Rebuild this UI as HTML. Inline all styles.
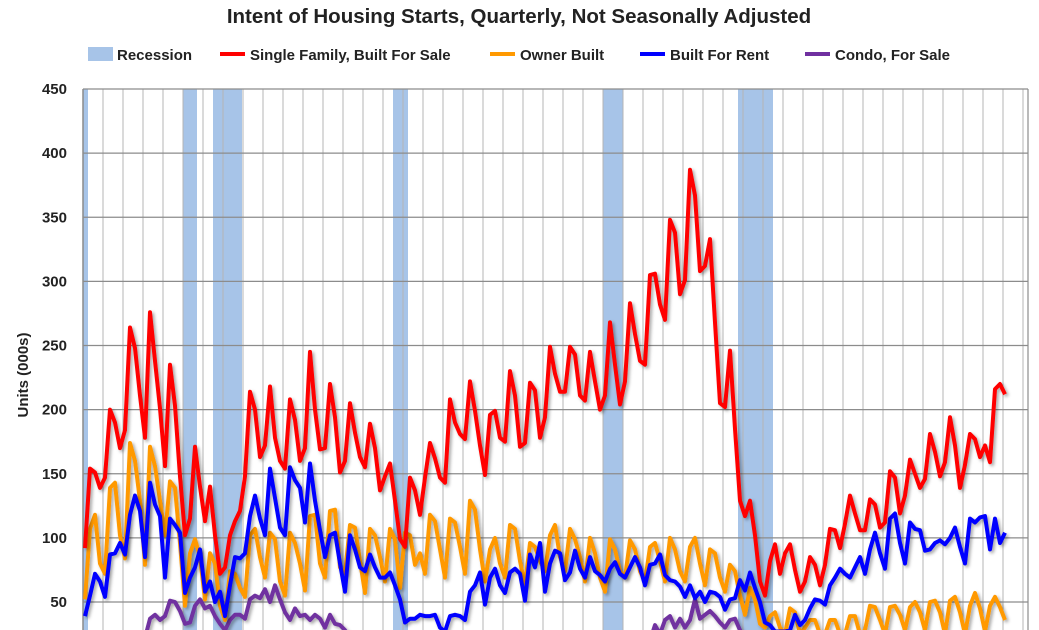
<!DOCTYPE html>
<html><head><meta charset="utf-8"><style>
html,body{margin:0;padding:0;background:#fff;}
svg{display:block;font-family:"Liberation Sans",Arial,sans-serif;}
</style></head><body>
<svg id="chart" width="1039" height="630" viewBox="0 0 1039 630" xmlns="http://www.w3.org/2000/svg">
<defs>
<filter id="sh" x="-5%" y="-5%" width="110%" height="110%"><feDropShadow dx="2" dy="2" stdDeviation="1.5" flood-color="#000" flood-opacity="0.35"/></filter>
<clipPath id="pc"><rect x="83" y="89" width="945" height="541"/></clipPath>
</defs>
<text x="519" y="23" text-anchor="middle" font-size="20.5" font-weight="bold" fill="#222">Intent of Housing Starts, Quarterly, Not Seasonally Adjusted</text>
<g font-size="15" font-weight="bold" fill="#222">
<g><rect x="88" y="47" width="25" height="14" fill="#a7c4e8"/><text x="117" y="60">Recession</text></g>
<g><line x1="220" y1="54" x2="245" y2="54" stroke="#ff0000" stroke-width="4"/><text x="250" y="60">Single Family, Built For Sale</text></g>
<g><line x1="490" y1="54" x2="515" y2="54" stroke="#ff9900" stroke-width="4"/><text x="520" y="60">Owner Built</text></g>
<g><line x1="640" y1="54" x2="665" y2="54" stroke="#0000ff" stroke-width="4"/><text x="670" y="60">Built For Rent</text></g>
<g><line x1="805" y1="54" x2="830" y2="54" stroke="#7030a0" stroke-width="4"/><text x="835" y="60">Condo, For Sale</text></g>
</g>
<text transform="translate(28,375) rotate(-90)" text-anchor="middle" font-size="15" font-weight="bold" fill="#222">Units  (000s)</text>
<g id="rec"></g>
<g id="grid"></g>
<g id="yt" font-size="15" font-weight="bold" fill="#222"></g>
<g id="series" clip-path="url(#pc)"></g>
</svg>
<script>
const yTicks=[50,100,150,200,250,300,350,400,450];
const recessions=[[1975.0,1975.25],[1980.0,1980.7],[1981.5,1982.95],[1990.5,1991.25],[2001.0,2002.0],[2007.75,2009.5]];
const singleFamily=[92,154,151,139,147,200,190,170,184,264,248,211,178,276,238,201,156,235,203,148,102,115,171,140,113,140,102,72,77,102,113,121,148,214,200,
163,172,218,178,160,154,208,192,160,170,245,200,169,170,220,194,151,160,205,182,163,155,189,170,137,148,158,129,99,93,147,137,118,
147,174,162,147,143,208,190,181,177,222,199,172,149,196,199,178,175,230,211,171,174,221,215,178,194,249,228,214,214,249,243,211,207,245,222,
200,211,268,235,204,222,283,259,238,235,305,306,282,270,348,338,290,301,387,367,308,312,333,268,205,202,246,185,129,117,129,102,66,55,82,
95,72,88,95,75,58,66,85,79,63,79,107,106,92,111,133,119,
106,106,130,126,108,112,152,147,119,133,161,150,139,146,181,167,148,159,194,172,139,157,181,177,163,172,159,216,220,212];
const ownerBuilt=[52,107,118,80,72,139,143,102,84,174,160,129,79,171,156,129,102,144,139,96,47,88,99,85,52,88,80,47,36,74,72,61,54,102,
107,85,69,104,99,66,55,104,96,80,59,117,118,80,69,121,122,77,72,110,108,82,57,107,102,85,66,107,99,61,104,102,79,88,
72,118,113,91,69,115,112,93,72,129,122,91,66,91,100,80,69,110,107,82,63,96,93,82,74,102,110,85,74,107,99,85,66,100,88,
69,58,99,91,74,69,98,91,74,66,93,96,82,66,100,91,74,66,93,100,80,63,91,88,69,58,79,74,55,40,61,52,33,30,39,
42,30,25,45,42,25,30,36,36,25,25,36,36,25,25,39,39,
25,28,47,46,36,25,46,47,40,28,46,50,42,28,50,51,42,25,51,54,42,25,47,57,45,27,47,54,46,36];
const builtForRent=[39,55,72,66,54,87,88,96,87,118,133,121,85,143,126,117,69,115,110,104,57,69,77,91,58,66,50,58,39,63,85,84,88,117,133,
115,102,154,131,108,102,155,145,139,112,158,129,106,85,102,104,80,58,102,91,77,74,87,77,69,69,73,63,52,34,37,37,40,
39,39,40,30,27,39,40,39,36,58,63,73,48,69,76,63,57,73,76,72,51,87,77,96,58,80,90,88,67,73,90,76,69,85,74,
71,66,76,81,72,69,77,85,77,63,79,80,87,71,67,66,62,54,63,53,58,50,58,57,54,44,52,53,67,59,73,61,50,34,32,
27,27,27,28,40,32,36,45,52,51,48,63,69,76,72,69,77,
85,72,91,104,88,76,115,119,96,80,112,107,106,90,91,96,98,95,100,108,93,80,115,112,116,117,91,115,96,104];
const condo=[20,20,20,20,20,20,20,20,20,20,20,20,22,37,40,36,39,51,50,43,33,34,47,52,45,47,39,33,28,36,40,40,37,52,55,
53,60,50,63,52,42,36,45,39,40,36,40,37,30,40,33,32,28,22,20,20,20,20,20,20,20,20,20,20,20,20,20,20,
20,20,20,20,20,20,20,20,20,20,20,20,20,20,20,20,20,20,20,20,20,20,20,20,20,20,20,20,20,20,20,20,20,20,20,
20,20,20,20,20,20,20,20,20,20,20,32,25,36,39,30,37,30,36,52,37,40,43,39,34,30,36,37,28,22,20,20,20,20,20,
20,20,20,20,22,26,24,20,20,20,20,20,20,20,20,20,20,
20,20,20,20,20,20,20,20,20,20,20,20,20,20,20,20,20,20,20,20,20,20,20,20,20,20,20,20,20,20];
const startYear=1975;
const X0=83, Xw=20;
function xYear(yr){return X0+(yr-startYear)*Xw;}
function xIdx(i){return xYear(startYear+0.1+i*0.25);}
function yVal(v){return 602-(v-50)*(513/400);}
const NS='http://www.w3.org/2000/svg';
function mk(tag,attrs,parent){const e=document.createElementNS(NS,tag);for(const k in attrs)e.setAttribute(k,attrs[k]);parent.appendChild(e);return e;}
const rec=document.getElementById('rec');
recessions.forEach(r=>{
 const el=mk('rect',{x:xYear(r[0]),y:89,width:xYear(r[1])-xYear(r[0]),height:541,fill:'#a7c4e8'},rec);
 
 
});
const grid=document.getElementById('grid');
for(let yr=1976;yr<=2022;yr++){
 const el=mk('line',{x1:xYear(yr),x2:xYear(yr),y1:89,y2:630,stroke:'#b4b4b4','stroke-width':1},grid);
 
 
}
const yt=document.getElementById('yt');
yTicks.forEach(t=>{
 const g=mk('line',{x1:X0,x2:1028,y1:yVal(t),y2:yVal(t),stroke:'#8c8c8c','stroke-width':1.2},grid);
 
 
 const tx=mk('text',{x:67,y:yVal(t)+5,'text-anchor':'end'},yt);
 tx.textContent=t;
 
 
});
const ax=mk('line',{x1:X0,x2:X0,y1:89,y2:630,stroke:'#8c8c8c','stroke-width':1.5},grid);


const rb=mk('line',{x1:1028,x2:1028,y1:89,y2:630,stroke:'#8c8c8c','stroke-width':1.2},grid);


const ser=document.getElementById('series');
function drawSeries(arr,color,name){
 const pts=arr.map((v,i)=>xIdx(i).toFixed(1)+','+yVal(v).toFixed(1)).join(' ');
 const p=mk('polyline',{points:pts,fill:'none',stroke:color,'stroke-width':4,'stroke-linejoin':'round',filter:'url(#sh)'},ser);
 
 
}
drawSeries(condo,'#7030a0','condo-for-sale-line');
drawSeries(ownerBuilt,'#ff9900','owner-built-line');
drawSeries(builtForRent,'#0000ff','built-for-rent-line');
drawSeries(singleFamily,'#ff0000','single-family-line');
</script>
</body></html>
